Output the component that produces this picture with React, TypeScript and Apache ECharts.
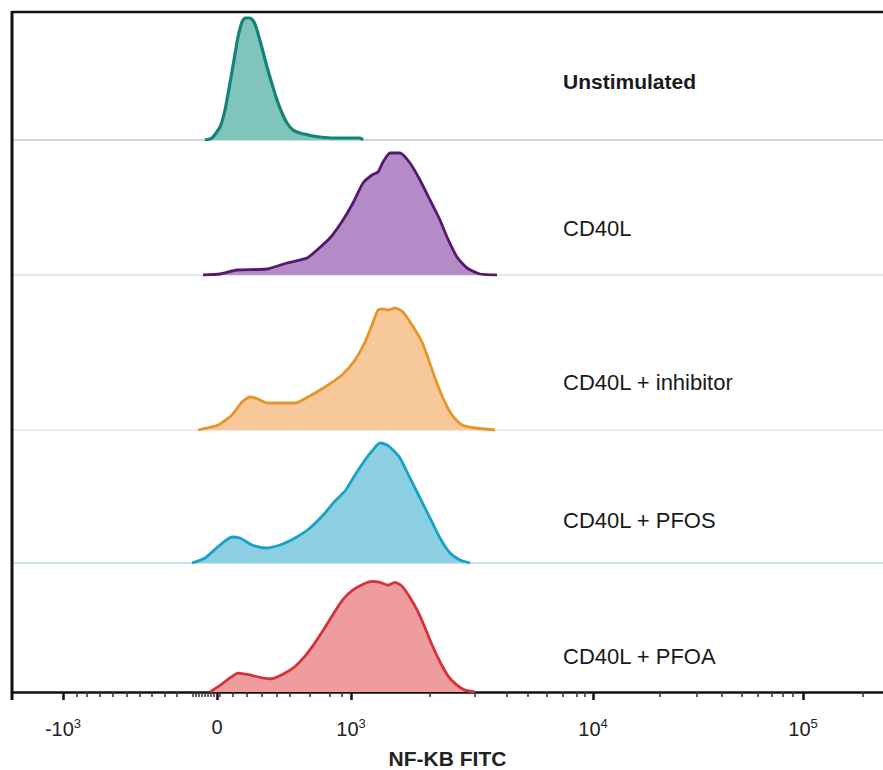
import React, { useEffect, useRef } from "react";
import * as echarts from "echarts";

// Display scale: channel units across the plot (0..871)
const X_MIN = 0;
const X_MAX = 871;
const Y_MAX = 128;

const panelNames = ["Unstimulated", "CD40L", "CD40L + inhibitor", "CD40L + PFOS", "CD40L + PFOA"];

const unstimulated: [number, number][] = [
  [193, 0], [200, 2], [208, 13], [213, 30], [218, 57], [222, 80], [226, 103], [230, 118],
  [233, 122], [238, 122], [242, 118], [245, 110], [250, 92], [255, 73], [260, 56], [265, 40],
  [270, 27], [275, 17], [281, 10], [288, 7], [301, 4], [308, 3], [321, 2], [338, 2], [348, 2], [351, 0],
];

const cd40l: [number, number][] = [
  [191, 0], [208, 1], [225, 5], [255, 6], [275, 12], [295, 17], [305, 25], [318, 37], [331, 55],
  [341, 72], [351, 92], [360, 100], [366, 103], [371, 113], [378, 122], [388, 122], [398, 112],
  [408, 95], [418, 75], [428, 55], [435, 38], [445, 18], [455, 7], [468, 1], [485, 0],
];

const inhibitor: [number, number][] = [
  [186, 0], [206, 5], [220, 15], [230, 28], [238, 33], [246, 31], [255, 27], [283, 27], [296, 33],
  [313, 43], [330, 55], [343, 70], [353, 88], [360, 105], [366, 120], [371, 121], [376, 120],
  [383, 122], [391, 118], [400, 105], [410, 88], [416, 72], [423, 52], [431, 32], [440, 15],
  [450, 5], [463, 2], [483, 0],
];

const pfos: [number, number][] = [
  [180, 0], [193, 5], [208, 18], [220, 26], [228, 25], [240, 18], [253, 15], [268, 18], [283, 25],
  [298, 35], [313, 50], [323, 62], [333, 72], [343, 88], [353, 103], [360, 112], [368, 120],
  [375, 118], [381, 113], [388, 105], [398, 85], [408, 65], [418, 45], [428, 25], [438, 10],
  [448, 3], [458, 0],
];

const pfoa: [number, number][] = [
  [198, 0], [208, 7], [218, 15], [226, 20], [238, 18], [250, 15], [260, 14], [273, 20], [283, 27],
  [293, 38], [301, 49], [311, 65], [321, 82], [331, 98], [341, 108], [351, 114], [360, 117],
  [368, 116], [376, 113], [383, 116], [390, 112], [398, 100], [406, 85], [413, 68], [420, 50],
  [428, 32], [436, 17], [444, 8], [453, 2], [463, 0],
];

const seriesData = [unstimulated, cd40l, inhibitor, pfos, pfoa];

// Axis ticks (channel units) and their labels
const majorTicks = [51, 205, 339, 581, 791];
const majorLabels = ["{b|-10}{s|3}", "{b|0}", "{b|10}{s|3}", "{b|10}{s|4}", "{b|10}{s|5}"];
const minorTicks = [
  65, 75, 88, 101, 115, 128, 140, 153, 165,
  181, 184, 187, 190, 193, 196, 199, 202, 208,
  221, 235, 250, 265, 278, 298, 318, 330,
  418, 463, 495, 516, 535, 551, 565, 573,
  648, 685, 710, 730, 746, 760, 771, 781,
  851,
];

const lineColors = ["#148379", "#55196f", "#e8942a", "#16a3c6", "#d6323a"];
const areaColors = ["#80c5bd", "#b48bc6", "#f6c89a", "#8ccfe2", "#ee9c9e"];
const baseColors = ["#b9d0ce", "#dedde8", "#efe5d2", "#b6dde8", "#111111"];

const baselines = [140, 275, 430, 563, 699];
const labelY = [81, 228, 382, 520, 656];

const FONT = "'Liberation Sans', Arial, Helvetica, sans-serif";

export default function App() {
  const ref = useRef<HTMLDivElement>(null);

  useEffect(() => {
    document.body.style.margin = "0";
    if (!ref.current) return;
    const chart = echarts.init(ref.current, undefined, { renderer: "svg" });

    const grids = baselines.map((b) => ({
      left: 12,
      width: 871,
      top: b - 128,
      height: 128,
      containLabel: false,
    }));

    const xAxes: any[] = baselines.map((_, i) => {
      const isBottom = i === 4;
      return {
        type: "value",
        gridIndex: i,
        min: X_MIN,
        max: X_MAX,
        position: "bottom",
        splitLine: { show: false },
        axisLine: {
          show: true,
          onZero: false,
          lineStyle: { color: baseColors[i], width: isBottom ? 2.5 : 1.5 },
        },
        axisTick: isBottom
          ? { show: true, customValues: majorTicks, length: 8, lineStyle: { color: "#111", width: 2.5 } }
          : { show: false },
        axisLabel: isBottom
          ? {
              show: true,
              customValues: majorTicks,
              margin: 25,
              formatter: (v: number) => {
                const idx = majorTicks.indexOf(Math.round(v));
                return idx >= 0 ? majorLabels[idx] : "";
              },
              rich: {
                b: { fontSize: 20, fontFamily: FONT, color: "#222" },
                s: { fontSize: 13, fontFamily: FONT, color: "#222", padding: [0, 0, 10, 0] },
              },
            }
          : { show: false },
        name: isBottom ? "NF-KB FITC" : undefined,
        nameLocation: "middle",
        nameGap: 56,
        nameTextStyle: { fontSize: 21, fontWeight: "bold", fontFamily: FONT, color: "#222" },
      };
    });
    // minor ticks on bottom axis
    xAxes.push({
      type: "value",
      gridIndex: 4,
      min: X_MIN,
      max: X_MAX,
      position: "bottom",
      splitLine: { show: false },
      axisLine: { show: false, onZero: false },
      axisTick: { show: true, customValues: minorTicks, length: 5, lineStyle: { color: "#333", width: 1.5 } },
      axisLabel: { show: false },
    });

    const yAxes = baselines.map((_, i) => ({
      type: "value",
      gridIndex: i,
      min: 0,
      max: Y_MAX,
      show: false,
    }));

    const series = seriesData.map((d, i) => ({
      type: "line",
      name: panelNames[i],
      xAxisIndex: i,
      yAxisIndex: i,
      data: d,
      smooth: 0.2,
      symbol: "none",
      lineStyle: { color: lineColors[i], width: i === 0 ? 3.2 : 2.8 },
      areaStyle: { color: areaColors[i], opacity: 1 },
      z: 3,
    }));

    const texts = panelNames.map((n, i) => ({
      type: "text",
      x: 563,
      y: labelY[i],
      style: {
        text: n,
        fontSize: i === 0 ? 21 : 22,
        fontWeight: i === 0 ? "bold" : "normal",
        fontFamily: FONT,
        fill: "#1a1a1a",
        verticalAlign: "middle",
      },
      z: 10,
    }));

    chart.setOption({
      animation: false,
      backgroundColor: "#ffffff",
      grid: grids,
      xAxis: xAxes,
      yAxis: yAxes,
      series,
      graphic: [
        { type: "line", shape: { x1: 12, y1: 12, x2: 883, y2: 12 }, style: { stroke: "#111", lineWidth: 2.5 }, z: 20 },
        { type: "line", shape: { x1: 12, y1: 11, x2: 12, y2: 700 }, style: { stroke: "#111", lineWidth: 3 }, z: 20 },
        ...texts,
      ],
    });

    return () => chart.dispose();
  }, []);

  return <div ref={ref} style={{ width: 883, height: 770 }} />;
}
